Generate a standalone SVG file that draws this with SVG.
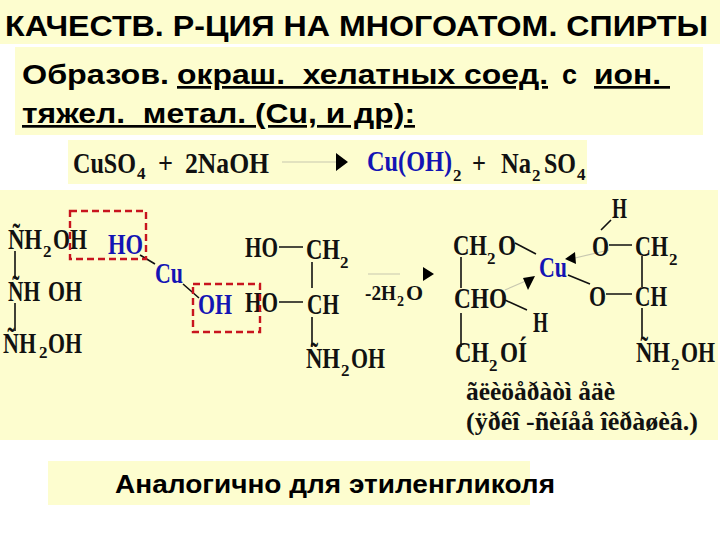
<svg xmlns="http://www.w3.org/2000/svg" width="720" height="540" viewBox="0 0 720 540">
<style>
.p{fill:#fdfdcf}
.s{font-family:"Liberation Sans",Arial,sans-serif;font-weight:bold;fill:#000;white-space:pre}
.u{text-decoration:underline}
.c{font-family:"Liberation Serif","Times New Roman",serif;font-weight:bold;font-size:30px;fill:#111}
.b{fill:#1414b4}
.i{font-size:17px}
.g{font-size:26px}
.m{font-size:22px}
.l{stroke:#111;stroke-width:1.6;fill:none}
.f{stroke:#c8c8b0;stroke-width:1.2;fill:none}
.d{stroke:#c8141e;stroke-width:2.4;stroke-dasharray:7 4;fill:none}
.a{fill:#000}
</style>
<rect width="720" height="540" fill="#fff"/>
<g id="panels">
<rect class="p" x="0" y="0" width="720" height="44"/>
<rect class="p" x="15" y="47" width="688" height="88"/>
<rect class="p" x="68" y="140" width="519" height="44"/>
<rect class="p" x="0" y="190" width="718" height="250"/>
<rect class="p" x="48" y="461" width="482" height="44"/>
</g>
<g id="heading">
<text class="s" x="5" y="36" font-size="29" textLength="703" lengthAdjust="spacingAndGlyphs">КАЧЕСТВ. Р-ЦИЯ НА МНОГОАТОМ. СПИРТЫ</text>
<text class="s" x="22" y="84" font-size="27" textLength="147" lengthAdjust="spacingAndGlyphs">Образов.</text>
<text class="s u" x="177" y="84" font-size="27" textLength="371" lengthAdjust="spacingAndGlyphs">окраш.  хелатных соед.</text>
<text class="s" x="562" y="84" font-size="27" textLength="15" lengthAdjust="spacingAndGlyphs">с</text>
<text class="s u" x="594" y="84" font-size="27" textLength="76" lengthAdjust="spacingAndGlyphs">ион. </text>
<text class="s u" x="22" y="123" font-size="27" textLength="393" lengthAdjust="spacingAndGlyphs">тяжел.  метал. (Cu, и др):</text>
</g>
<g id="connectors">
<path class="f" d="M282 162H337M368 274H400M609 250L575 258M505 290L528 280"/>
<path class="l" d="M15 251V279M15 303V331M140 255L155 264M183 284L199 298M279 247H303M279 302H303M312 262V288M312 317V347"/>
<path class="l" d="M515 243L536 254M461 257V288M461 313V347M505 300L527 310M601 230L611 220M609 245H632M606 294H632M568 275L590 284M642 256V287M642 308V338"/>
<path class="a" d="M336 153L348 162L336 171ZM423 267L434 274L423 281ZM565 259L575 252L576 264ZM523 278L535 276L528 290Z"/>
</g>
<g id="reaction">
<text class="c" x="73" y="173" textLength="63" lengthAdjust="spacingAndGlyphs">CuSO</text><text class="c i" x="137" y="179">4</text>
<text class="c" x="158" y="173" textLength="15" lengthAdjust="spacingAndGlyphs">+</text>
<text class="c" x="185" y="173" textLength="84" lengthAdjust="spacingAndGlyphs">2NaOH</text>
<text class="c b" x="367" y="171" textLength="85" lengthAdjust="spacingAndGlyphs">Cu(OH)</text><text class="c i" x="453" y="181">2</text>
<text class="c" x="472" y="173" textLength="14" lengthAdjust="spacingAndGlyphs">+</text>
<text class="c" x="501" y="173" textLength="30" lengthAdjust="spacingAndGlyphs">Na</text><text class="c i" x="532" y="181">2</text>
<text class="c" x="544" y="173" textLength="32" lengthAdjust="spacingAndGlyphs">SO</text><text class="c i" x="577" y="180">4</text>
</g>
<g id="left-glycerol">
<text class="c" x="8" y="249" textLength="34" lengthAdjust="spacingAndGlyphs">ÑH</text><text class="c i" x="43" y="257">2</text><text class="c" x="53" y="249" textLength="34" lengthAdjust="spacingAndGlyphs">OH</text>
<text class="c" x="8" y="301" textLength="32" lengthAdjust="spacingAndGlyphs">ÑH</text><text class="c" x="48" y="301" textLength="34" lengthAdjust="spacingAndGlyphs">OH</text>
<text class="c" x="3" y="353" textLength="33" lengthAdjust="spacingAndGlyphs">ÑH</text><text class="c i" x="39" y="358">2</text><text class="c" x="48" y="353" textLength="34" lengthAdjust="spacingAndGlyphs">OH</text>
</g>
<g id="copper-hydroxide">
<text class="c b" x="108" y="254" textLength="35" lengthAdjust="spacingAndGlyphs">HO</text>
<text class="c b" x="155" y="283" textLength="28" lengthAdjust="spacingAndGlyphs">Cu</text>
<text class="c b" x="198" y="314" textLength="34" lengthAdjust="spacingAndGlyphs">OH</text>
</g>
<g id="right-glycerol">
<text class="c" x="245" y="257" textLength="33" lengthAdjust="spacingAndGlyphs">HO</text>
<text class="c" x="306" y="259" textLength="34" lengthAdjust="spacingAndGlyphs">CH</text><text class="c i" x="340" y="268">2</text>
<text class="c" x="245" y="312" textLength="33" lengthAdjust="spacingAndGlyphs">HO</text>
<text class="c" x="307" y="314" textLength="32" lengthAdjust="spacingAndGlyphs">CH</text>
<text class="c" x="306" y="368" textLength="34" lengthAdjust="spacingAndGlyphs">ÑH</text><text class="c i" x="341" y="376">2</text><text class="c" x="351" y="368" textLength="34" lengthAdjust="spacingAndGlyphs">OH</text>
<text class="c m" x="365" y="300" textLength="31" lengthAdjust="spacingAndGlyphs">-2H</text><text class="c" x="397" y="306" style="font-size:14px">2</text><text class="c m" x="406" y="300">O</text>
</g>
<g id="dashed-boxes">
<rect class="d" x="70" y="211" width="76" height="48"/>
<rect class="d" x="193" y="284" width="67" height="48"/>
</g>
<g id="complex">
<text class="c" x="453" y="255" textLength="34" lengthAdjust="spacingAndGlyphs">CH</text><text class="c i" x="487" y="264">2</text><text class="c" x="498" y="255" textLength="18" lengthAdjust="spacingAndGlyphs">O</text>
<text class="c" x="454" y="308" textLength="53" lengthAdjust="spacingAndGlyphs">CHO</text>
<text class="c" x="455" y="362" textLength="34" lengthAdjust="spacingAndGlyphs">CH</text><text class="c i" x="489" y="371">2</text><text class="c" x="500" y="362" textLength="27" lengthAdjust="spacingAndGlyphs">OÍ</text>
<text class="c" x="533" y="332" textLength="15" lengthAdjust="spacingAndGlyphs">H</text>
<text class="c b" x="539" y="277" textLength="28" lengthAdjust="spacingAndGlyphs">Cu</text>
<text class="c" x="612" y="218" textLength="15" lengthAdjust="spacingAndGlyphs">H</text>
<text class="c" x="592" y="256" textLength="17" lengthAdjust="spacingAndGlyphs">O</text>
<text class="c" x="635" y="256" textLength="33" lengthAdjust="spacingAndGlyphs">CH</text><text class="c i" x="669" y="265">2</text>
<text class="c" x="589" y="306" textLength="17" lengthAdjust="spacingAndGlyphs">O</text>
<text class="c" x="635" y="306" textLength="32" lengthAdjust="spacingAndGlyphs">CH</text>
<text class="c" x="636" y="362" textLength="34" lengthAdjust="spacingAndGlyphs">ÑH</text><text class="c i" x="671" y="370">2</text><text class="c" x="681" y="362" textLength="34" lengthAdjust="spacingAndGlyphs">OH</text>
<text class="c g" x="466" y="400" textLength="149" lengthAdjust="spacingAndGlyphs">ãëèöåðàòì åäè</text>
<text class="c g" x="466" y="430" textLength="232" lengthAdjust="spacingAndGlyphs">(ÿðêî -ñèíåå îêðàøèâ.)</text>
</g>
<g id="footer">
<text class="s" x="115" y="493" font-size="25" textLength="440" lengthAdjust="spacingAndGlyphs">Аналогично для этиленгликоля</text>
</g>
</svg>
